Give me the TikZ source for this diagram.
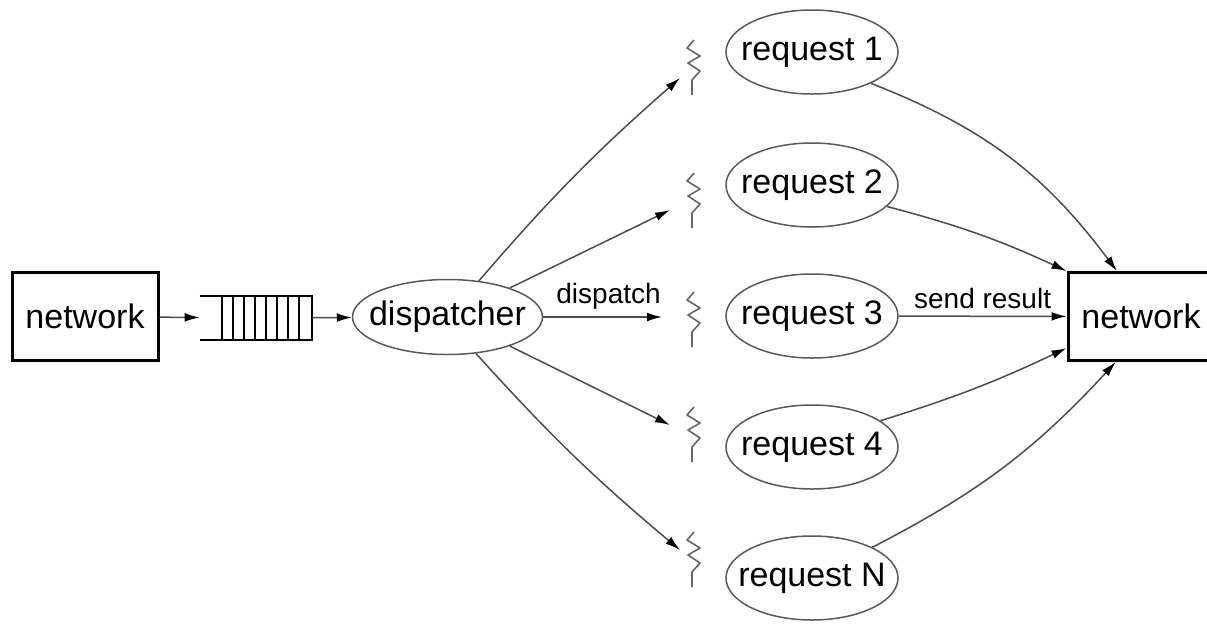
\documentclass[tikz,border=0pt]{standalone}
\usepackage{fontspec}
\setmainfont{Liberation Sans}
\usetikzlibrary{shapes.geometric,arrows.meta}

\begin{document}
\begin{tikzpicture}[x=0.5pt, y=-0.5pt,
	conn/.style={draw=black!70, line width=0.75pt, -{Latex[length=7.5pt,width=4.4pt,color=black]}},
	box/.style={draw, line width=1.5pt, minimum width=73pt, minimum height=44pt, inner sep=0pt, font=\fontsize{17}{20}\selectfont},
	oval/.style={ellipse, draw=black!65, line width=0.75pt, inner xsep=-7pt, minimum height=42pt, font=\fontsize{17}{20}\selectfont},
	lbl/.style={font=\fontsize{14}{16}\selectfont},
	thread/.style={draw=black!60, line width=0.8pt, line join=round}]

\useasboundingbox (0,0) rectangle (1207,623);
\clip (0,0) rectangle (1207,623);

\node [box] (net1) at (85,316.5) {network};
\node [minimum width=56pt, minimum height=22pt, inner sep=0pt] (q) at (256,318) {};
\draw [line width=1pt] (q.north west) -- (q.north east) -- (q.south east) -- (q.south west);
\foreach \x in {222,233,...,299}
	\draw [line width=1pt] (\x,296) -- (\x,340);

\node [oval, minimum width=95pt, minimum height=37.5pt] (disp) at (447.5,317) {dispatcher};

\foreach \i/\y/\ty/\ax/\ay in {
		1/52/40/680/78,
		2/185/173/670/210,
		3/316/292/662/317,
		4/447/407/670/425,
		N/578/532/680/550
	}
	{
		\node [oval, minimum width=86pt] (req\i) at (812,\y) {request \i};
		\coordinate (t\i) at (694,\ty);
		\coordinate (a\i) at (\ax,\ay);
		\draw [thread] (t\i) -- ++(-7,8) -- ++(13,8) -- ++(-12,7) -- ++(12,8) -- ++(-8,9) -- ++(0,15);
	}

\node [box] (net2) at (1141,316.5) {network};

\draw [conn] (net1) -- (q);
\draw [conn] (q) -- (disp);
\draw [conn] (disp.49) to [bend left=4] (a1);
\draw [conn] (disp.25) -- (a2);
\draw [conn] (disp) -- node [lbl, above, pos=0.55] {dispatch} (a3);
\draw [conn] (disp.-25) -- (a4);
\draw [conn] (disp.-52) to [bend right=4] (aN);

\draw [conn] (req1.-28) to [bend left=16] (net2.118);
\draw [conn] (req2.-16) to [bend left=5] (net2.north west);
\draw [conn] (req3) -- node [lbl, above] {send result} (net2);
\draw [conn] (req4.21) to [bend right=4] (net2.203);
\draw [conn] (reqN.27) to [bend right=10] (net2.241);

\end{tikzpicture}
\end{document}
